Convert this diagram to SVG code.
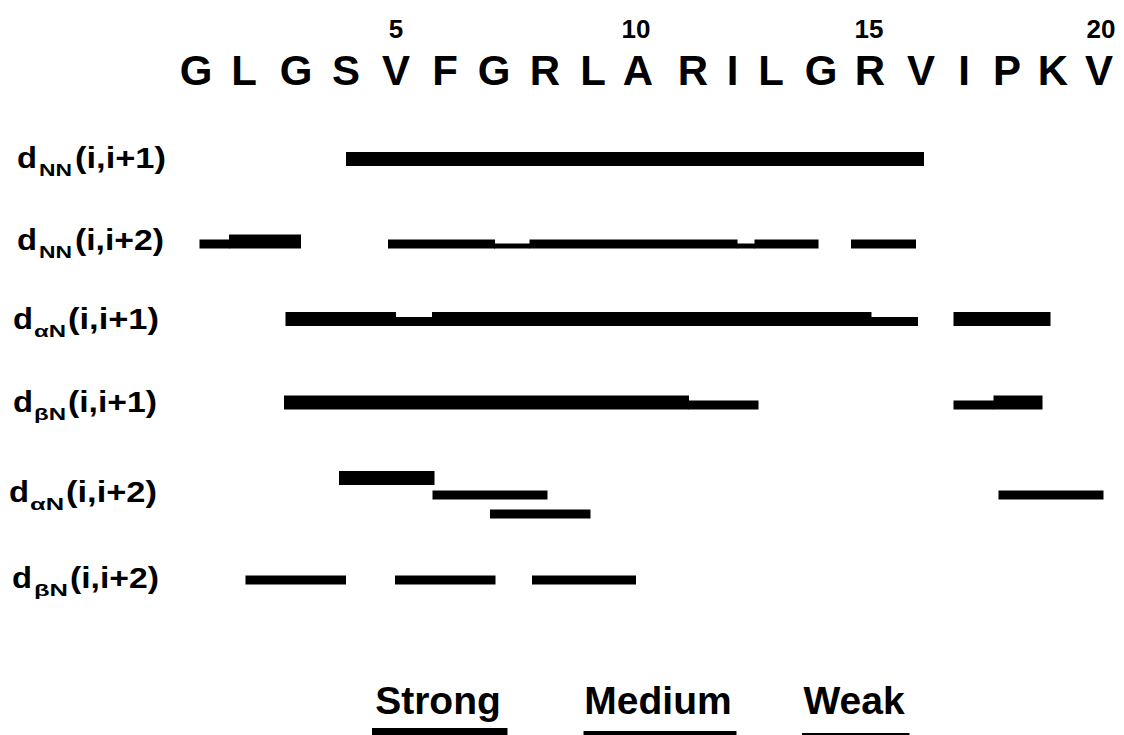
<svg xmlns="http://www.w3.org/2000/svg" width="1124" height="735" viewBox="0 0 1124 735">
<style>
  text { font-family: "Liberation Sans", Arial, sans-serif; font-weight: bold; fill: #000; }
  .seq { font-size: 42px; text-anchor: middle; }
  .num { font-size: 26px; text-anchor: middle; }
  .lbl { font-size: 29px; }
  .sub { font-size: 16px; }
  .leg { font-size: 39px; text-anchor: middle; }
  rect { fill: #000; }
</style>
<rect x="0" y="0" width="1124" height="735" style="fill:#fff"/>

<g id="sequence">
  <text class="num" x="396" y="38">5</text>
  <text class="num" x="636" y="38">10</text>
  <text class="num" x="869" y="38">15</text>
  <text class="num" x="1101" y="38">20</text>
  <text class="seq" x="196" y="85">G</text>
  <text class="seq" x="244" y="85">L</text>
  <text class="seq" x="296" y="85">G</text>
  <text class="seq" x="346" y="85">S</text>
  <text class="seq" x="396" y="85">V</text>
  <text class="seq" x="445" y="85">F</text>
  <text class="seq" x="494" y="85">G</text>
  <text class="seq" x="545" y="85">R</text>
  <text class="seq" x="593" y="85">L</text>
  <text class="seq" x="638" y="85">A</text>
  <text class="seq" x="693" y="85">R</text>
  <text class="seq" x="732.5" y="85">I</text>
  <text class="seq" x="771" y="85">L</text>
  <text class="seq" x="821" y="85">G</text>
  <text class="seq" x="870" y="85">R</text>
  <text class="seq" x="921" y="85">V</text>
  <text class="seq" x="964" y="85">I</text>
  <text class="seq" x="1007" y="85">P</text>
  <text class="seq" x="1053" y="85">K</text>
  <text class="seq" x="1099" y="85">V</text>
</g>

<g id="row-dNN-i1">
  <text class="lbl" x="17" y="168" textLength="20" lengthAdjust="spacingAndGlyphs">d</text>
  <text class="sub" x="39" y="176" textLength="33" lengthAdjust="spacingAndGlyphs">NN</text>
  <text class="lbl" x="75" y="168" textLength="91" lengthAdjust="spacingAndGlyphs">(i,i+1)</text>
  <rect x="346" y="152" width="578" height="14"/>
</g>

<g id="row-dNN-i2">
  <text class="lbl" x="17" y="250" textLength="20" lengthAdjust="spacingAndGlyphs">d</text>
  <text class="sub" x="39" y="258" textLength="33" lengthAdjust="spacingAndGlyphs">NN</text>
  <text class="lbl" x="75" y="250" textLength="89" lengthAdjust="spacingAndGlyphs">(i,i+2)</text>
  <rect x="199.5" y="239.5" width="30" height="9"/>
  <rect x="229" y="234.5" width="72" height="14"/>
  <rect x="388" y="239.5" width="107" height="9"/>
  <rect x="494" y="243.5" width="36" height="5"/>
  <rect x="529.5" y="239.5" width="208" height="9"/>
  <rect x="737" y="243.5" width="18" height="5"/>
  <rect x="754.5" y="239.5" width="64" height="9"/>
  <rect x="851" y="239.5" width="65" height="9"/>
</g>

<g id="row-daN-i1">
  <text class="lbl" x="13" y="329" textLength="20" lengthAdjust="spacingAndGlyphs">d</text>
  <text class="sub" x="34" y="337" textLength="32" lengthAdjust="spacingAndGlyphs">αN</text>
  <text class="lbl" x="68" y="329" textLength="91" lengthAdjust="spacingAndGlyphs">(i,i+1)</text>
  <rect x="285.5" y="312" width="110.5" height="14"/>
  <rect x="395.5" y="317" width="37" height="9"/>
  <rect x="432" y="312" width="439.5" height="14"/>
  <rect x="871" y="317" width="47" height="9"/>
  <rect x="953.5" y="312" width="97" height="14"/>
</g>

<g id="row-dbN-i1">
  <text class="lbl" x="13" y="412" textLength="20" lengthAdjust="spacingAndGlyphs">d</text>
  <text class="sub" x="34" y="420" textLength="32" lengthAdjust="spacingAndGlyphs">βN</text>
  <text class="lbl" x="68" y="412" textLength="89" lengthAdjust="spacingAndGlyphs">(i,i+1)</text>
  <rect x="284" y="395.5" width="405" height="14"/>
  <rect x="688.5" y="400.5" width="70" height="9"/>
  <rect x="953.5" y="400.5" width="40.5" height="9"/>
  <rect x="993.5" y="395.5" width="49" height="14"/>
</g>

<g id="row-daN-i2">
  <text class="lbl" x="9" y="502" textLength="20" lengthAdjust="spacingAndGlyphs">d</text>
  <text class="sub" x="30" y="510" textLength="34" lengthAdjust="spacingAndGlyphs">αN</text>
  <text class="lbl" x="66" y="502" textLength="91" lengthAdjust="spacingAndGlyphs">(i,i+2)</text>
  <rect x="339" y="471" width="95.5" height="14"/>
  <rect x="432.5" y="490.5" width="115" height="9"/>
  <rect x="490" y="509.5" width="100.5" height="9"/>
  <rect x="998.5" y="490.5" width="105" height="9"/>
</g>

<g id="row-dbN-i2">
  <text class="lbl" x="12" y="588" textLength="20" lengthAdjust="spacingAndGlyphs">d</text>
  <text class="sub" x="34" y="596" textLength="34" lengthAdjust="spacingAndGlyphs">βN</text>
  <text class="lbl" x="70" y="588" textLength="89" lengthAdjust="spacingAndGlyphs">(i,i+2)</text>
  <rect x="245.5" y="575.5" width="100.5" height="9"/>
  <rect x="395" y="575.5" width="100.5" height="9"/>
  <rect x="532" y="575.5" width="104" height="9"/>
</g>

<g id="legend">
  <text class="leg" x="438" y="714">Strong</text>
  <rect x="372" y="728" width="135.5" height="14"/>
  <text class="leg" x="658" y="714">Medium</text>
  <rect x="583.5" y="731" width="153" height="9"/>
  <text class="leg" x="854" y="714">Weak</text>
  <rect x="802" y="733" width="107.5" height="5"/>
</g>
</svg>
